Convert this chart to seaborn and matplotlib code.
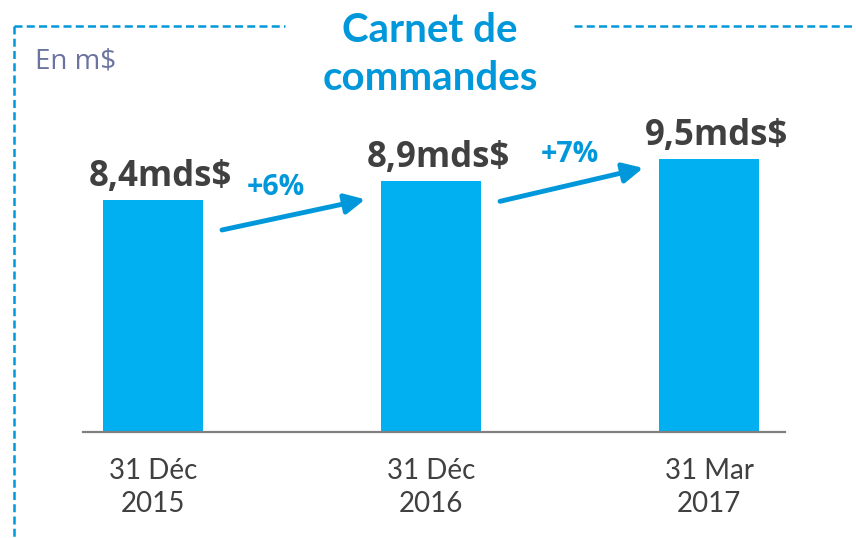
import matplotlib.pyplot as plt
import seaborn as sns
from matplotlib.lines import Line2D

# data
dates = ["31 Déc\n2015", "31 Déc\n2016", "31 Mar\n2017"]
backlog = [8.4, 8.9, 9.5]
value_labels = ["8,4mds$", "8,9mds$", "9,5mds$"]

BAR_BLUE = "#00b0f0"
ACCENT = "#0098da"
DARK = "#404040"
UNIT_GREY = "#6b739f"
SANS = ["Open Sans", "DejaVu Sans"]

sns.set_theme(style="white")
plt.rcParams["font.family"] = ["Lato", "DejaVu Sans"]

W, H = 856, 538
fig = plt.figure(figsize=(W / 100, H / 100), dpi=100)
ax_h = 332
ax = fig.add_axes([83 / W, 106 / H, 702 / W, ax_h / H])

sns.barplot(x=dates, y=backlog, color=BAR_BLUE, saturation=1, width=0.36,
            linewidth=0, ax=ax)

ymin, ymax = 2.18, 11.08
ax.set_ylim(ymin, ymax)
ax.set_xlim(-0.252, 2.273)
ax.set_yticks([])
ax.set_ylabel("")
sns.despine(ax=ax, left=True)
ax.spines["bottom"].set_color("#808080")
ax.spines["bottom"].set_linewidth(1.6)
ax.tick_params(axis="x", length=0, pad=19, labelsize=20, labelcolor=DARK)
for lbl in ax.get_xticklabels():
    lbl.set_linespacing(1.3)

# value labels above bars
for i, (v, lab) in enumerate(zip(backlog, value_labels)):
    ax.annotate(lab, xy=(i, v), xytext=(5, 10), textcoords="offset points",
                ha="center", va="baseline", fontsize=25, fontweight="bold",
                color=DARK, family=SANS)

# growth arrows between bars
px_per_unit = ax_h / (ymax - ymin)
arrow_drop = [(30, 18), (20, 9)]  # px below the bar tops (tail, head)
pct_offset = [(-13, 14.5), (-1, 16)]  # points from arrow middle
for i in range(len(backlog) - 1):
    x0, x1 = i + 0.248, i + 0.763
    y0 = backlog[i] - arrow_drop[i][0] / px_per_unit
    y1 = backlog[i + 1] - arrow_drop[i][1] / px_per_unit
    ax.annotate("", xy=(x1, y1), xytext=(x0, y0),
                arrowprops=dict(arrowstyle="-|>,head_length=0.6,head_width=0.3",
                                mutation_scale=20, lw=3.5, color=ACCENT,
                                shrinkA=0, shrinkB=0))
    pct = round((backlog[i + 1] / backlog[i] - 1) * 100)
    ax.annotate(f"+{pct}%", xy=((x0 + x1) / 2, (y0 + y1) / 2), xytext=pct_offset[i],
                textcoords="offset points", ha="center", va="baseline",
                fontsize=20.5, fontweight="bold", color=ACCENT, family=SANS)

# title and unit
fig.text(430 / W, 1 - 90 / H, "Carnet de\ncommandes", ha="center", va="baseline",
         fontsize=29, fontweight="bold", color=ACCENT, linespacing=1.37)
fig.text(35 / W, 1 - 69 / H, "En m$", ha="left", va="baseline",
         fontsize=20, color=UNIT_GREY, family=SANS)

# dashed frame
dash = (0, (3.2, 1.7))
top_y = 1 - 26 / H
fig.add_artist(Line2D([14 / W, 285 / W], [top_y, top_y], transform=fig.transFigure,
                      color=ACCENT, lw=1.8, linestyle=dash))
fig.add_artist(Line2D([574 / W, 1.0], [top_y, top_y], transform=fig.transFigure,
                      color=ACCENT, lw=1.8, linestyle=dash))
fig.add_artist(Line2D([14 / W, 14 / W], [top_y, 0], transform=fig.transFigure,
                      color=ACCENT, lw=1.8, linestyle=dash))

fig.savefig("out.png", dpi=100)
